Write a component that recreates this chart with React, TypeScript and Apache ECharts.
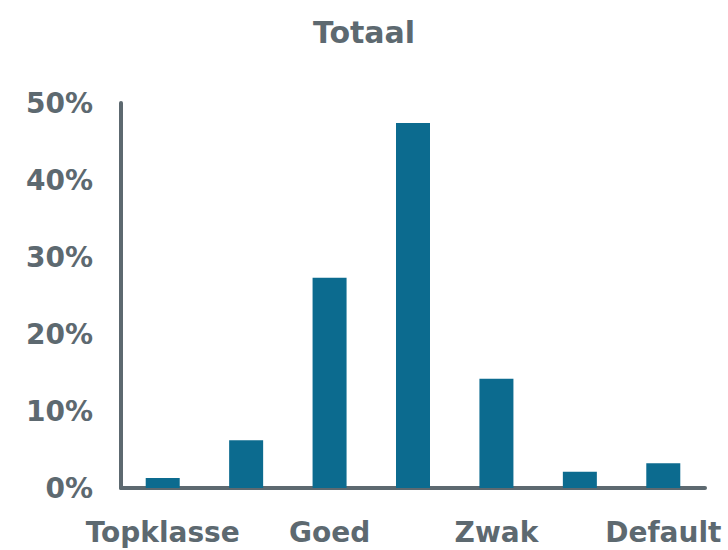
import React, { useEffect, useRef } from "react";
import * as echarts from "echarts";

const categories = ["Topklasse", "Zeer goed", "Goed", "Redelijk", "Zwak", "Zeer zwak", "Default"];
const values = [1.3, 6.2, 27.3, 47.4, 14.2, 2.1, 3.2];
const yTicks = { min: 0, max: 50, interval: 10 };
const title = "Totaal";

const TEXT = "#5d6970";
const BAR = "#0c6b8f";
const FONT = "'DejaVu Sans', sans-serif";

export default function App() {
  const ref = useRef<HTMLDivElement>(null);
  useEffect(() => {
    if (!ref.current) return;
    const chart = echarts.init(ref.current, undefined, { renderer: "svg" });
    chart.setOption({
      animation: false,
      title: {
        text: title,
        left: "center",
        top: 12,
        textStyle: { color: TEXT, fontFamily: FONT, fontWeight: "bold", fontSize: 30 },
      },
      grid: { left: 121, right: 23, top: 103, bottom: 62, containLabel: false },
      xAxis: {
        type: "category",
        data: categories,
        axisLine: { lineStyle: { color: TEXT, width: 4, cap: "round" } },
        axisTick: { show: false },
        axisLabel: {
          interval: 1,
          color: TEXT,
          fontFamily: FONT,
          fontWeight: "bold",
          fontSize: 28,
          margin: 30,
        },
      },
      yAxis: {
        type: "value",
        min: yTicks.min,
        max: yTicks.max,
        interval: yTicks.interval,
        splitLine: { show: false },
        axisLine: { show: true, lineStyle: { color: TEXT, width: 4, cap: "round" } },
        axisTick: { show: false },
        axisLabel: {
          formatter: "{value}%",
          color: TEXT,
          fontFamily: FONT,
          fontWeight: "bold",
          fontSize: 28,
          margin: 28,
        },
      },
      series: [
        {
          type: "bar",
          data: values,
          barWidth: 34,
          itemStyle: { color: BAR },
        },
      ],
    });
    return () => chart.dispose();
  }, []);
  return (
    <div
      ref={ref}
      style={{ position: "fixed", left: 0, top: 0, width: 728, height: 550, background: "#ffffff" }}
    />
  );
}
